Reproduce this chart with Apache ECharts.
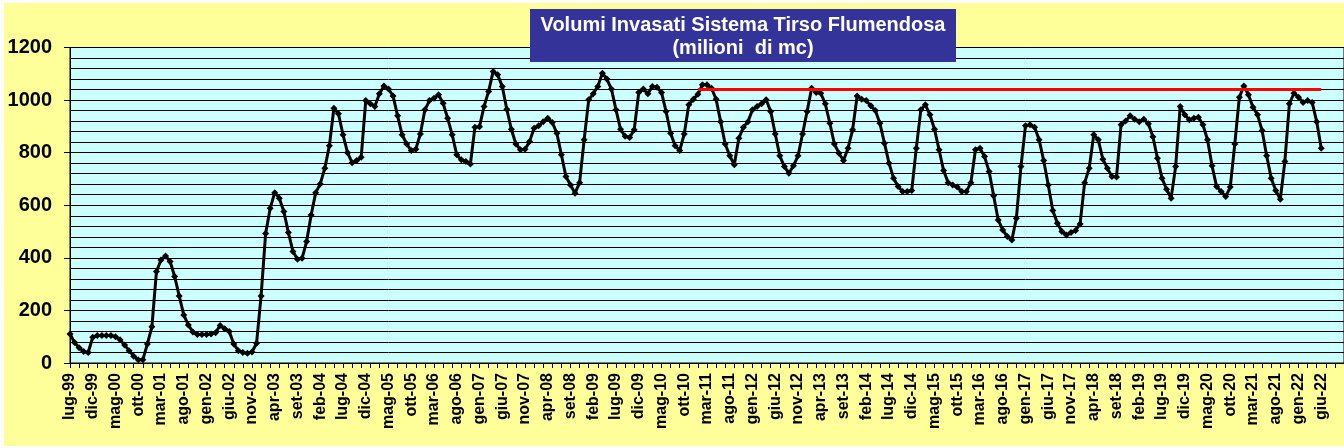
<!DOCTYPE html>
<html>
<head>
<meta charset="utf-8">
<script src="https://cdn.jsdelivr.net/npm/echarts@6/dist/echarts.min.js"></script>
<style>
html,body{margin:0;padding:0;background:#ffffff;overflow:hidden;}
#chart{position:absolute;left:4px;top:3px;width:1340px;height:443px;}
</style>
</head>
<body>
<div id="chart"></div>
<script>
// Italian month abbreviations used for tick labels
const monthNames = ['gen','feb','mar','apr','mag','giu','lug','ago','set','ott','nov','dic'];
const startYear = 1999;
const startMonthIndex = 6; // lug
const categoryCount = 281; // axis runs a few months past the last value
const labelEvery = 5;      // one label every 5 months

// Volumes (milioni di mc), monthly from lug-99 to giu-22
const vol1999_2003 = [110, 78, 58, 44, 40, 98, 105, 105, 105, 105, 100, 88, 68, 47, 26, 12, 12, 72, 138, 348,
  392, 407, 386, 329, 255, 183, 145, 118, 108, 108, 108, 110, 115, 143, 130, 120, 72, 47, 40, 37,
  42, 75, 255, 493, 589];
const vol2003_2007 = [648, 627, 576, 496, 424, 395, 398, 462, 563, 648, 681, 741, 826, 969, 948, 868, 800, 762, 770, 783,
  998, 986, 976, 1024, 1054, 1042, 1016, 940, 868, 833, 808, 813, 871, 963, 998, 1007, 1020, 988, 931, 868,
  792, 773, 766, 757, 897, 899, 976, 1033, 1109];
const vol2007_2009 = [1096, 1052, 965, 889, 833, 811, 813, 842, 893, 902, 918, 931, 915, 874, 792, 709, 677, 646, 686, 849,
  1001, 1024, 1052, 1102, 1080, 1042, 963, 889, 862, 858, 887];
const vol2009_2010 = [1029, 1042, 1024, 1052, 1049, 1029, 957, 874, 826, 808, 871, 982, 1003, 1022];
const vol2011_2014 = [1058, 1058, 1045, 1003, 918, 833, 788, 754, 855, 897, 918, 963, 976, 986, 1001, 957, 871, 788, 747, 722,
  750, 788, 871, 957, 1045, 1029, 1026, 986, 912, 833, 798, 770, 817, 887, 1016, 1003, 998, 978, 960, 912,
  836, 760, 703, 671, 652, 652, 656];
const vol2015_2018 = [817, 963, 982, 944, 889, 811, 732, 686, 677, 669, 652, 652, 686, 811, 817, 785, 728, 636, 544, 506,
  481, 468, 551, 747, 902, 906, 897, 849, 770, 677, 580, 532, 500, 487, 496, 504, 529, 686, 741, 868,
  849, 775, 741, 709, 707, 906, 920];
const vol2019_2022 = [940, 927, 918, 927, 910, 861, 779, 703, 661, 627, 747, 976, 944, 925, 931, 935, 906, 849, 750, 671,
  652, 633, 669, 833, 1011, 1054, 1020, 973, 944, 884, 788, 703, 656, 623, 766, 986, 1026, 1011, 991, 998,
  991, 918, 817];

// Red reference level
const refStart = 'gen-11';
const refEnd = 'giu-22';
const refValue = 1040;

// Y axis tick labels
const yMin = 0, yMax = 1200, yStep = 200;

// Title
const titleLines = ['Volumi Invasati Sistema Tirso Flumendosa', '(milioni  di mc)'];

const volumi = [].concat(vol1999_2003, vol2003_2007, vol2007_2009, vol2009_2010, vol2011_2014, vol2015_2018, vol2019_2022);
const lastIndex = volumi.length - 1;

const categories = [];
for (let k = 0; k < categoryCount; k++) {
  const m = startMonthIndex + k;
  const y = startYear + Math.floor(m / 12);
  categories.push(monthNames[m % 12] + '-' + String(y % 100).padStart(2, '0'));
}

const FONT = '"Liberation Sans", Arial, sans-serif';
const chart = echarts.init(document.getElementById('chart'), null, {renderer: 'canvas'});
chart.setOption({
  animation: false,
  backgroundColor: '#FFFF99',
  grid: {left: 66, right: 0, top: 44.5, bottom: 83, show: true, backgroundColor: '#CCFFFF', borderColor: '#000', borderWidth: 1, containLabel: false},
  xAxis: {
    type: 'category', data: categories, boundaryGap: false,
    axisLine: {show: true, lineStyle: {color: '#000', width: 1}},
    axisTick: {show: true, interval: 1, length: 5, lineStyle: {color: '#000', width: 1}},
    axisLabel: {
      interval: function (idx) { return idx % labelEvery === 0 && idx <= lastIndex; },
      rotate: 90, margin: 10, color: '#000', fontFamily: FONT, fontWeight: 'bold', fontSize: 16
    },
    splitLine: {show: false}
  },
  yAxis: {
    type: 'value', min: yMin, max: yMax, interval: yStep,
    axisLine: {show: true, lineStyle: {color: '#000', width: 1}},
    axisTick: {show: true, length: 6, lineStyle: {color: '#000', width: 1}},
    axisLabel: {margin: 18, color: '#000', fontFamily: FONT, fontWeight: 'bold', fontSize: 20,
      formatter: function (v) { return String(v); }},
    splitLine: {show: true, lineStyle: {color: '#000', width: 1}},
    minorTick: {show: false, splitNumber: 5},
    minorSplitLine: {show: true, lineStyle: {color: '#000', width: 1}}
  },
  series: [{
    type: 'line', data: volumi,
    symbol: 'diamond', symbolSize: 7, showAllSymbol: true,
    lineStyle: {color: '#000', width: 3},
    itemStyle: {color: '#000'},
    z: 3,
    markLine: {
      silent: true, symbol: ['none', 'none'], label: {show: false},
      lineStyle: {color: '#FF0000', width: 3, type: 'solid'},
      data: [[{coord: [refStart, refValue]}, {coord: [refEnd, refValue]}]]
    }
  }],
  graphic: [
    {type: 'rect', zlevel: 2, z: 100, shape: {x: 526, y: 6, width: 426, height: 53}, style: {fill: '#333399'}},
    {type: 'text', zlevel: 2, z: 101, style: {text: titleLines[0], x: 739, y: 22, align: 'center', verticalAlign: 'middle', fill: '#fff', font: 'bold 20px ' + FONT}},
    {type: 'text', zlevel: 2, z: 101, style: {text: titleLines[1], x: 739, y: 45, align: 'center', verticalAlign: 'middle', fill: '#fff', font: 'bold 20px ' + FONT}}
  ]
});
</script>
</body>
</html>
